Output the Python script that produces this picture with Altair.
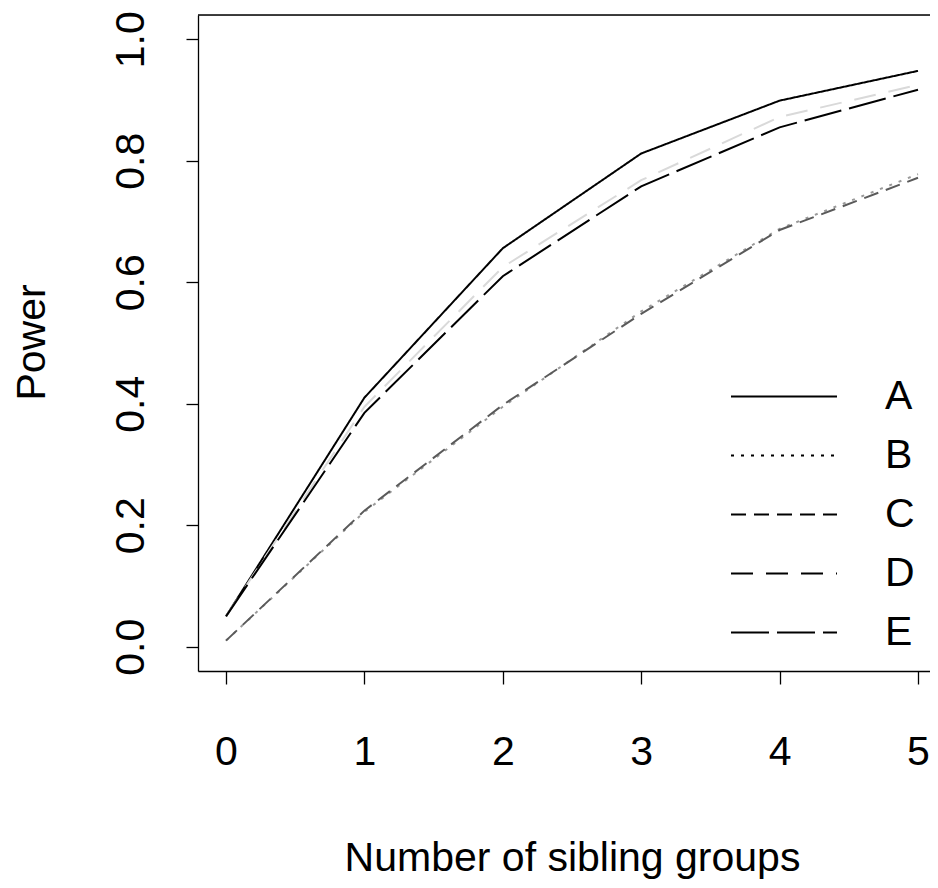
import altair as alt
import pandas as pd

n_groups = [0, 1, 2, 3, 4, 5]
series = ["A", "B", "C", "D", "E"]
power_A = [0.05, 0.41, 0.656, 0.812, 0.899, 0.948]
power_B = [0.01, 0.222, 0.395, 0.552, 0.688, 0.778]
power_C = [0.01, 0.224, 0.398, 0.548, 0.686, 0.772]
power_D = [0.05, 0.395, 0.625, 0.768, 0.872, 0.925]
power_E = [0.05, 0.385, 0.61, 0.758, 0.855, 0.917]
line_colors = ["#000000", "#9a9a9a", "#5a5a5a", "#d9d9d9", "#000000"]
line_dashes = [[1, 0], [3, 7], [15, 8], [22, 13], [38, 8]]
y_ticks = [0.0, 0.2, 0.4, 0.6, 0.8, 1.0]

values = [power_A, power_B, power_C, power_D, power_E]
rows = []
for s, col, vals in zip(series, line_colors, values):
    for x, v in zip(n_groups, vals):
        rows.append({"x": x, "power": v, "series": s, "color": col})
df = pd.DataFrame(rows)

FONT = "Liberation Sans"
FS = 41
YMIN, YMAX = -0.04, 1.04

lines = alt.Chart(df).mark_line(strokeWidth=2).encode(
    x=alt.X("x:Q",
            scale=alt.Scale(domain=[-0.2023, 5.0867], nice=False, zero=False),
            axis=alt.Axis(values=n_groups, format="d", tickSize=13,
                          labelPadding=80, labelBaseline="alphabetic",
                          labelFontSize=FS, labelFont=FONT, labelColor="black",
                          title="Number of sibling groups", titleFont=FONT,
                          titleFontSize=FS, titleFontWeight="normal",
                          titleColor="black", titleX=374, titleY=199,
                          titleBaseline="alphabetic", titleAlign="center",
                          grid=False, domainColor="black", tickColor="black",
                          domainWidth=1.3, tickWidth=1.3)),
    y=alt.Y("power:Q",
            scale=alt.Scale(domain=[YMIN, YMAX], nice=False, zero=False),
            axis=alt.Axis(values=y_ticks, format=".1f", tickSize=12,
                          labelPadding=43, labelAngle=270,
                          labelAlign="center", labelBaseline="alphabetic",
                          labelFontSize=FS, labelFont=FONT, labelColor="black",
                          title="Power", titleFont=FONT, titleFontSize=FS,
                          titleFontWeight="normal", titleColor="black",
                          titleAngle=270, titleX=-154, titleY=327,
                          titleBaseline="alphabetic", titleAlign="center",
                          grid=False, domainColor="black", tickColor="black",
                          domainWidth=1.3, tickWidth=1.3)),
    color=alt.Color("color:N", scale=None),
    strokeDash=alt.StrokeDash("series:N",
                              scale=alt.Scale(domain=series, range=line_dashes),
                              legend=alt.Legend(orient="none", legendX=532,
                                                legendY=352, title=None,
                                                symbolType="stroke",
                                                symbolSize=11236,
                                                symbolStrokeWidth=2,
                                                symbolStrokeColor="black",
                                                labelFontSize=FS,
                                                labelFont=FONT,
                                                labelColor="black",
                                                labelOffset=47,
                                                clipHeight=59,
                                                rowPadding=0,
                                                padding=0)),
)

top_border = alt.Chart(pd.DataFrame({"y": [YMAX]})).mark_rule(
    color="black", strokeWidth=1.3).encode(y=alt.Y("y:Q"))

chart = alt.layer(lines, top_border).properties(
    width=732, height=656,
    autosize=alt.AutoSizeParams(type="none"),
    padding={"left": 190, "top": 7, "right": 0, "bottom": 208},
).configure_view(stroke=None).configure(background="white")

chart.save("out.html", embed_options={"renderer": "svg", "actions": False})
